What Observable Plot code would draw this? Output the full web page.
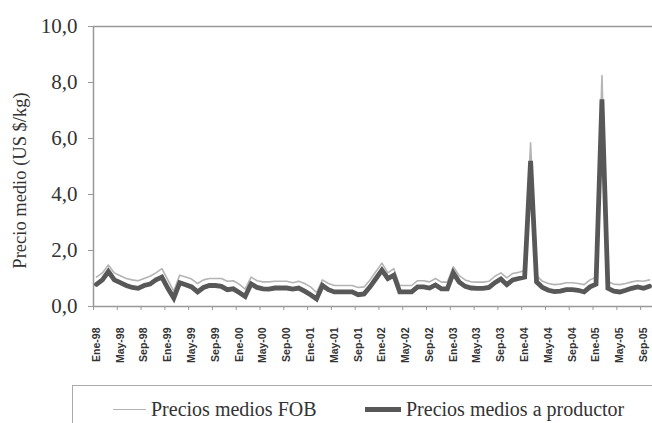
<!DOCTYPE html>
<html>
<head>
<meta charset="utf-8">
<script src="https://cdn.jsdelivr.net/npm/d3@7"></script>
<script src="https://cdn.jsdelivr.net/npm/@observablehq/plot@0.6"></script>
<style>
  html, body { margin: 0; padding: 0; background: #fff; overflow: hidden; }
  #wrap { position: relative; width: 652px; height: 423px; }
  #chart svg text { font-family: "Liberation Serif", "Times New Roman", serif !important; }
  #chart svg g[aria-label="x-axis tick label"] text { font-family: "Liberation Sans", Arial, sans-serif !important; }
  #legend {
    position: absolute; left: 72px; top: 385px; width: 590px; height: 60px;
    border: 1px solid #aaa; box-sizing: border-box;
    font-family: "Liberation Serif", "Times New Roman", serif; font-size: 20px; color: #333;
  }
  .item { position: absolute; top: 12px; display: flex; align-items: center; white-space: nowrap; }
  .sw { display: inline-block; margin-right: 5px; }
</style>
</head>
<body>
<div id="wrap">
  <div id="chart"></div>
  <div id="legend">
    <div class="item" style="left:40px"><span class="sw" style="width:33px;height:0;border-top:1.6px solid #b4b4b4"></span>Precios medios FOB</div>
    <div class="item" style="left:292px"><span class="sw" style="width:36px;height:5px;background:#585858"></span>Precios medios a productor</div>
  </div>
</div>
<script>
const monthNames = ["Ene","Feb","Mar","Abr","May","Jun","Jul","Ago","Sep","Oct","Nov","Dic"];
const years = ["98","99","00","01","02","03","04","05"];
const tickLabels = ["Ene-98","May-98","Sep-98","Ene-99","May-99","Sep-99","Ene-00","May-00","Sep-00",
  "Ene-01","May-01","Sep-01","Ene-02","May-02","Sep-02","Ene-03","May-03","Sep-03",
  "Ene-04","May-04","Sep-04","Ene-05","May-05","Sep-05"];
const yTicks = [0, 2, 4, 6, 8, 10];

const productor = [0.79,0.95,1.25,0.95,0.85,0.75,0.68,0.65,0.75,0.8,0.95,1.05,
 0.65,0.3,0.85,0.78,0.7,0.52,0.68,0.75,0.75,0.72,0.6,0.63,
 0.5,0.36,0.81,0.68,0.63,0.62,0.66,0.66,0.66,0.62,0.66,0.55,
 0.42,0.27,0.75,0.6,0.52,0.52,0.52,0.52,0.42,0.45,0.7,1.0,
 1.3,1.0,1.12,0.52,0.52,0.52,0.7,0.7,0.66,0.77,0.63,0.63,
 1.2,0.87,0.72,0.66,0.65,0.65,0.68,0.85,0.98,0.78,0.95,1.0,
 1.05,5.2,0.88,0.68,0.58,0.53,0.55,0.6,0.6,0.58,0.52,0.7,
 0.8,7.4,0.65,0.55,0.52,0.58,0.65,0.7,0.65,0.72];

const fob = [1.05,1.2,1.48,1.2,1.1,1.0,0.95,0.92,1.0,1.08,1.2,1.35,
 0.95,0.55,1.12,1.05,0.98,0.82,0.95,1.0,1.0,1.0,0.9,0.92,
 0.8,0.62,1.05,0.92,0.88,0.88,0.9,0.9,0.9,0.85,0.9,0.82,
 0.7,0.5,0.95,0.82,0.75,0.75,0.75,0.75,0.68,0.7,0.95,1.25,
 1.55,1.2,1.35,0.75,0.75,0.75,0.92,0.92,0.88,1.0,0.87,0.87,
 1.42,1.1,0.95,0.88,0.87,0.87,0.9,1.08,1.2,1.02,1.18,1.22,
 1.28,5.85,1.1,0.9,0.82,0.78,0.8,0.85,0.85,0.82,0.78,0.95,
 1.05,8.25,0.88,0.8,0.78,0.82,0.88,0.92,0.9,0.95];

// category label for each month
const periods = [];
for (const y of years) for (const m of monthNames) periods.push(m + "-" + y);
const data = productor.map((v, i) => ({i, periodo: periods[i], productor: v, fob: fob[i]}));

const labelIdx = tickLabels.map(l => periods.indexOf(l));
const boundaries = labelIdx.map(i => i - 0.5);
const fmt = d3.format(".1f");
const serif = "Liberation Serif, Times New Roman, serif";

const chart = Plot.plot({
  width: 652,
  height: 385,
  marginTop: 26,
  marginBottom: 79,
  marginLeft: 93,
  marginRight: 0,
  style: {background: "#fff", color: "#333"},
  x: {domain: [-0.5, 93.5]},
  y: {domain: [0, 10]},
  marks: [
    Plot.axisY({ticks: yTicks, tickSize: 5, tickPadding: 11, tickFormat: d => fmt(d).replace(".", ","),
      fontSize: 21, fontFamily: serif, stroke: "#999", label: null, fill: "#333"}),
    Plot.axisX({ticks: boundaries, tickSize: 4, tickFormat: () => "", stroke: "#999", label: null}),
    Plot.axisX({ticks: labelIdx, tickSize: 0, tickPadding: 21, tickRotate: -90,
      tickFormat: i => periods[i], label: null,
      fontFamily: "Liberation Sans, Arial, sans-serif", fontSize: 10.5, fontWeight: "bold",
      fill: "#333", style: "letter-spacing:1.3px"}),
    Plot.ruleY([10], {stroke: "#999", strokeWidth: 1.5}),
    Plot.ruleX([-0.5], {stroke: "#999", strokeWidth: 1.5}),
    Plot.ruleY([0], {stroke: "#999", strokeWidth: 1.5}),
    Plot.lineY(data, {x: "i", y: "fob", stroke: "#b4b4b4", strokeWidth: 1.6}),
    Plot.lineY(data, {x: "i", y: "productor", stroke: "#585858", strokeWidth: 4.8, strokeLinejoin: "miter", strokeMiterlimit: 3}),
    Plot.text(["Precio medio (US $/kg)"], {frameAnchor: "left", textAnchor: "middle", rotate: -90, dx: -73, dy: 14,
      fontSize: 18.5, fill: "#333", fontFamily: serif})
  ]
});
document.getElementById("chart").appendChild(chart);
</script>
</body>
</html>
